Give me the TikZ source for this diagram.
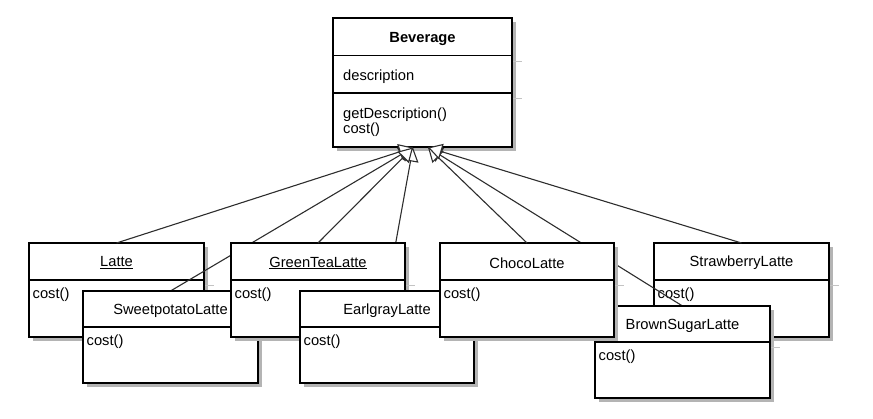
\documentclass[tikz,border=0pt]{standalone}
\usepackage{fontspec}
\setmainfont{Liberation Sans}
\usetikzlibrary{arrows.meta}
\definecolor{shadowc}{RGB}{180,180,180}
\definecolor{edgec}{RGB}{45,45,45}
\tikzset{
  clsbox/.style={draw=black, line width=1.8pt, fill=white},
  clsline/.style={draw=black, line width=1.8pt},
  shd/.style={fill=shadowc},
  shdtick/.style={draw=shadowc!80, line width=1pt},
  txt/.style={font=\fontsize{14.7}{17}\selectfont, inner sep=2pt, text=black},
  txtb/.style={font=\fontsize{14.7}{17}\selectfont\bfseries, inner sep=2pt, text=black},
  inherit/.style={draw=edgec, line width=1.1pt, -{Triangle[width=16pt,length=14pt,fill=white]}},
  placeholder/.style={draw=none, inner sep=0pt, outer sep=0pt, rectangle}
}
% #1 name, #2 left, #3 top, #4 right, #5 bottom
\newcommand{\clsnode}[5]{%
  \path node[placeholder, anchor=north west, minimum width={#4-#2}, minimum height={#5-#3}] (#1) at (#2,#3) {};}
% #1 name, #2 left, #3 top, #4 right, #5 bottom, #6 divider, #7 title
\newcommand{\drawbox}[7]{%
  \fill[shd] (#2+4,#3+4) rectangle (#4+4,#5+4);
  \draw[shdtick] (#4,#6+6) -- (#4+10,#6+6);
  \draw[clsbox] (#1.north west) rectangle (#1.south east);
  \draw[clsline] (#2,#6) -- (#4,#6);
  \node[txt] (#1-title) at ({(#2+#4)/2},{(#3+#6)/2+1.5}) {#7};
  \node[txt, anchor=west] (#1-op) at (#2+1.5,#6+14.5) {cost()};
}
\begin{document}
\begin{tikzpicture}[x=1pt,y=-1pt]
\useasboundingbox (0,0) rectangle (873,419);
% named class boxes
\clsnode{bev}{333}{18}{512}{147}
\clsnode{latte}{29}{243}{204}{337}
\clsnode{sweet}{83}{291}{258}{383}
\clsnode{green}{231}{243}{405}{337}
\clsnode{earl}{300}{291}{474}{383}
\clsnode{choco}{440}{243}{614}{337}
\clsnode{straw}{654}{243}{829}{337}
\clsnode{brown}{595}{306}{770}{398}
\coordinate (tipL) at (413,147.5);
\coordinate (tipR) at (428,147.5);
% Beverage
\fill[shd] (337,22) rectangle (516,151);
\draw[shdtick] (512,61.5) -- (522,61.5);
\draw[shdtick] (512,99) -- (522,99);
\draw[clsbox] (bev.north west) rectangle (bev.south east);
\draw[clsline] (333,55.5) -- (512,55.5);
\draw[clsline] (333,93) -- (512,93);
\node[txtb] (bev-title) at (422.5,39) {Beverage};
\node[txt, anchor=west] (bev-attr) at (341,76.5) {description};
\node[txt, anchor=west] (bev-op1) at (341,114.5) {getDescription()};
\node[txt, anchor=west] (bev-op2) at (341,130) {cost()};
% subclasses in stacking order
\drawbox{latte}{29}{243}{204}{337}{280}{\underline{Latte}}
\draw[inherit] (sweet.north) -- (tipL);
\draw[inherit] (earl.north) -- (tipL);
\drawbox{sweet}{83}{291}{258}{383}{327}{SweetpotatoLatte}
\drawbox{green}{231}{243}{405}{337}{280}{\underline{GreenTeaLatte}}
\drawbox{earl}{300}{291}{474}{383}{327}{EarlgrayLatte}
\drawbox{straw}{654}{243}{829}{337}{280}{StrawberryLatte}
\draw[inherit] (brown.north) -- (tipR);
\drawbox{brown}{595}{306}{770}{398}{342}{BrownSugarLatte}
\drawbox{choco}{440}{243}{614}{337}{280}{ChocoLatte}
\draw[inherit] (latte.north) -- (tipL);
\draw[inherit] (green.north) -- (tipL);
\draw[inherit] (choco.north) -- (tipR);
\draw[inherit] (straw.north) -- (tipR);
\end{tikzpicture}
\end{document}
